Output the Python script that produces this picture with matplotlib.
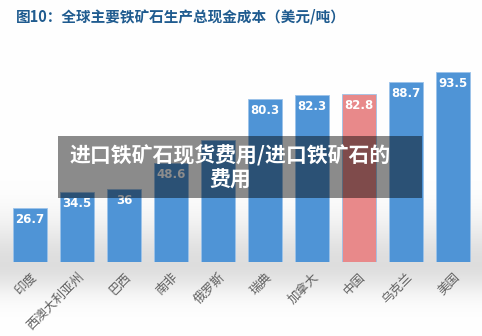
import numpy as np
import matplotlib
matplotlib.use("Agg")
import matplotlib.pyplot as plt
from matplotlib.patches import Rectangle

plt.rcParams['font.family'] = ['Noto Sans CJK SC', 'DejaVu Sans']

categories = ["印度", "西澳大利亚州", "巴西", "南非", "俄罗斯", "瑞典", "加拿大", "中国", "乌克兰", "美国"]
values = [26.7, 34.5, 36, 48.6, 60.0, 80.3, 82.3, 82.8, 88.7, 93.5]
labels = ["26.7", "34.5", "36", "48.6", "", "80.3", "82.3", "82.8", "88.7", "93.5"]
highlight = "中国"
title = "图10：全球主要铁矿石生产总现金成本（美元/吨）"
overlay_text = "进口铁矿石现货费用/进口铁矿石的\n费用"

W, H = 482, 336
fig = plt.figure(figsize=(W / 100, H / 100), dpi=100)

# background gradient
bg = fig.add_axes([0, 0, 1, 1], zorder=0)
ys = np.linspace(0, 1, 400)  # 0 top .. 1 bottom
ypx = ys * H
g = np.ones_like(ypx)
peak = 265
g = 1 - 0.13 * np.exp(-((ypx - peak) / np.where(ypx < peak, 45, 28)) ** 2)
img = np.repeat(g[:, None], 10, axis=1)
bg.imshow(np.dstack([img, img, img]), aspect='auto', extent=[0, 1, 0, 1], origin='upper')
bg.set_axis_off()

ax = fig.add_axes([6.5 / W, 1 - 262 / H, 470 / W, 203 / H], zorder=1)
ax.patch.set_alpha(0)
x = np.arange(len(categories))
colors = ["#e8898a" if c == highlight else "#4f94d6" for c in categories]
bars = ax.bar(x, values, width=0.72, color=colors, edgecolor="#9cc3ea", linewidth=0.6)
for xi, v, lab in zip(x, values, labels):
    if lab:
        ax.text(xi, v - 2.5, lab, ha='center', va='top', color='white',
                fontsize=8.5, fontweight='bold', family=['DejaVu Sans'])
ax.set_xlim(-0.5, len(categories) - 0.5)
ax.set_ylim(0, 100)
ax.set_yticks([])
ax.set_xticks(x)
ax.set_xticklabels(categories, rotation=45, ha='right', va='top', rotation_mode='anchor',
                   fontsize=9, color='#606060')
ax.tick_params(axis='x', length=0, pad=6)
for s in ax.spines.values():
    s.set_visible(False)

fig.text(16 / W, 1 - 16 / H, title, ha='left', va='center', fontsize=10.5,
         fontweight='bold', color='#1f5b8f')

# overlay
fig.patches.append(Rectangle((58 / W, 1 - 198 / H), (422 - 58) / W, 62 / H,
                             transform=fig.transFigure, facecolor='black', alpha=0.45,
                             edgecolor='none', zorder=5))
fig.text(230 / W, 1 - 168 / H, overlay_text, ha='center', va='center', fontsize=15,
         fontweight='bold', color='white', linespacing=1.2, zorder=6)

fig.savefig("out.png", dpi=100)
